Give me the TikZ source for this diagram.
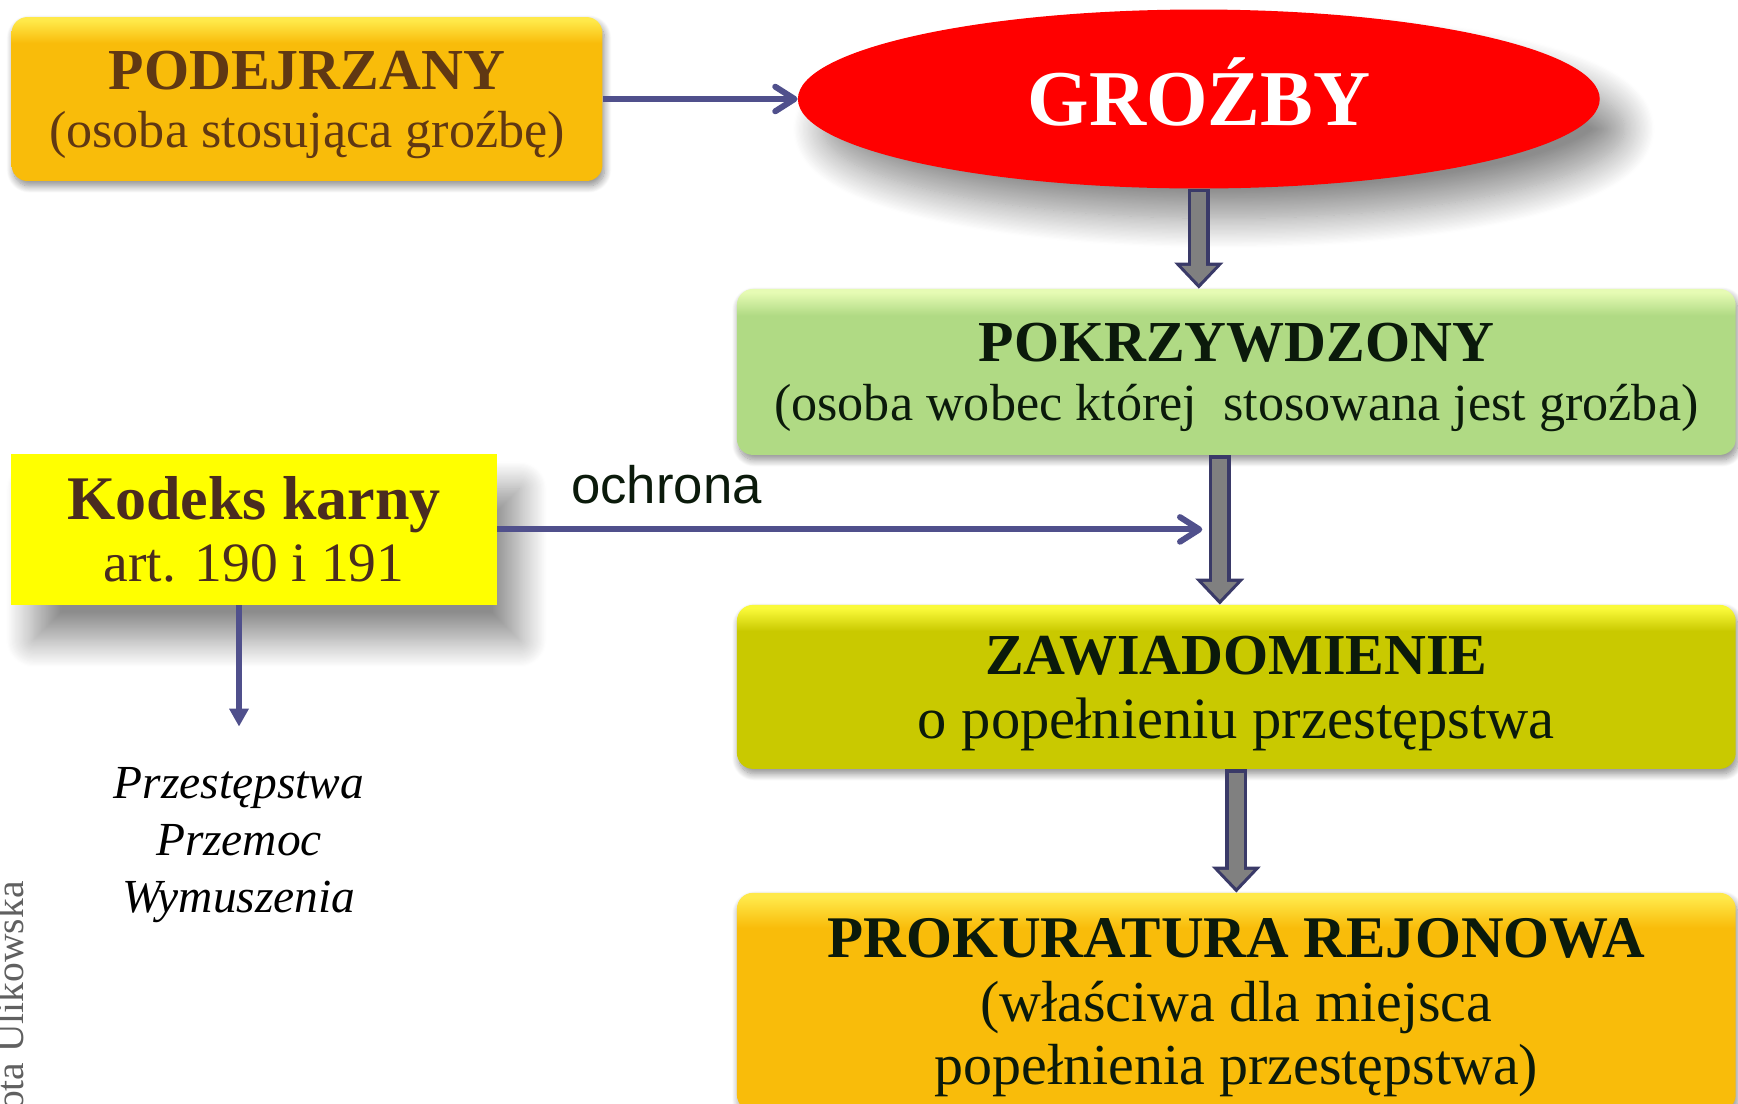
\documentclass[tikz,border=0pt]{standalone}
\usepackage{fontspec}
\setmainfont{Liberation Serif}
\setsansfont{Liberation Sans}
\usepackage{tikz}
\usetikzlibrary{positioning}
\usetikzlibrary{shapes,arrows.meta,shadows.blur}

\definecolor{boxorange}{HTML}{F9BC0A}
\definecolor{boxorangetop}{HTML}{FFE94A}
\definecolor{boxgreen}{HTML}{B0DA84}
\definecolor{boxgreentop}{HTML}{E6FBB4}
\definecolor{boxolive}{HTML}{C9C900}
\definecolor{boxolivetop}{HTML}{FAFA3A}
\definecolor{lawyellow}{HTML}{FFFF00}
\definecolor{threatred}{HTML}{FF0000}
\definecolor{linkblue}{HTML}{50508C}
\definecolor{blockgrey}{HTML}{808080}
\definecolor{blockedge}{HTML}{3A3A68}
\definecolor{txtbrown}{HTML}{603813}
\definecolor{txtdark}{HTML}{0B1A0B}
\definecolor{lawbrown}{HTML}{4A2C20}
\definecolor{creditgrey}{HTML}{606060}

\pgfdeclareverticalshading{glossorange}{100bp}{color(0bp)=(boxorange); color(25bp)=(boxorange); color(67bp)=(boxorange); color(74bp)=(boxorangetop); color(100bp)=(boxorangetop)}
\pgfdeclareverticalshading{glossgreen}{100bp}{color(0bp)=(boxgreen); color(25bp)=(boxgreen); color(67bp)=(boxgreen); color(74bp)=(boxgreentop); color(100bp)=(boxgreentop)}
\pgfdeclareverticalshading{glossolive}{100bp}{color(0bp)=(boxolive); color(25bp)=(boxolive); color(67bp)=(boxolive); color(74bp)=(boxolivetop); color(100bp)=(boxolivetop)}

\newcommand{\headline}{\fontsize{33}{34}\selectfont\bfseries}

\tikzstyle{box} = [rectangle, rounded corners=0.32cm, inner sep=0pt, align=center, shade, text depth=0pt,
    blur shadow={shadow xshift=0.04cm, shadow yshift=-0.1cm, shadow blur radius=0.14cm,
    shadow blur steps=12, shadow opacity=45}]
\tikzstyle{suspect} = [box, shading=glossorange, minimum width=11.82cm, minimum height=3.28cm,
    text=txtbrown, font=\fontsize{29.7}{33}\selectfont]
\tikzstyle{threat} = [ellipse, fill=threatred, minimum width=16.04cm, minimum height=3.58cm, inner sep=0pt,
    text=white, text height=29.7pt, text depth=0pt, font=\fontsize{45}{50}\selectfont\bfseries,
    blur shadow={shadow xshift=0.5cm, shadow yshift=-0.6cm, shadow blur radius=0.6cm,
    shadow blur steps=25, shadow opacity=45}]
\tikzstyle{victim} = [box, shading=glossgreen, minimum width=19.98cm, minimum height=3.32cm,
    text=txtdark, font=\fontsize{29.7}{33.5}\selectfont]
\tikzstyle{notice} = [box, shading=glossolive, minimum width=19.98cm, minimum height=3.28cm,
    text=txtdark, font=\fontsize{33.3}{36.4}\selectfont]
\tikzstyle{office} = [box, shading=glossorange, minimum width=19.98cm, minimum height=4.36cm,
    text=txtdark, font=\fontsize{33}{36.1}\selectfont]
\tikzstyle{law} = [rectangle, fill=lawyellow, minimum width=9.72cm, minimum height=3.02cm, inner sep=0pt,
    align=center, text=lawbrown, font=\fontsize{31.6}{35.4}\selectfont,
    blur shadow={shadow xshift=0.45cm, shadow yshift=-0.7cm, shadow blur radius=0.55cm,
    shadow blur steps=25, shadow opacity=45}]
\tikzstyle{crime} = [align=center, inner sep=0pt, font=\fontsize{27}{32.4}\selectfont\itshape]
\tikzstyle{credit} = [rotate=90, anchor=base east, inner sep=0pt, text=creditgrey, font=\fontsize{22.5}{24}\selectfont]
\tikzstyle{tag} = [text=txtdark, inner sep=0pt, font=\sffamily\fontsize{30}{34}\selectfont]
\tikzstyle{arrow} = [line width=3.4pt, color=linkblue, -{Straight Barb[length=11pt, width=14pt, round]}]
\tikzstyle{darrow} = [line width=3.4pt, color=linkblue, -{Triangle[length=10pt, width=11.4pt, line width=0pt]}]
\tikzstyle{fatedge} = [line width=12.5pt, color=blockedge, -{Triangle[length=14.8pt, width=28pt, line width=0pt]}]
\tikzstyle{fatcore} = [line width=8.7pt, color=blockgrey, -{Triangle[length=10.2pt, width=19.6pt, line width=0pt]},
    shorten >=2.7pt, shorten <=1.9pt]

\begin{document}
\begin{tikzpicture}[x=0.02cm, y=-0.02cm, node distance=6.3cm]
\useasboundingbox (0,0) rectangle (1738,1103);
\clip (0,0) rectangle (1738,1103);

\node (podej) [suspect] at (307,99) {{\headline PODEJRZANY}\\(osoba stosująca groźbę)};
\node (grozby) [threat, right of=podej, node distance=17.84cm] {GROŹBY};
\node (pokrz) [victim, below of=grozby, node distance=5.46cm, xshift=0.75cm]
    {{\headline POKRZYWDZONY}\\(osoba wobec której\ \ stosowana jest groźba)};
\node (zawiad) [notice, below of=pokrz] {{\headline ZAWIADOMIENIE}\\o popełnieniu przestępstwa};
\node (prokur) [office, below of=zawiad]
    {{\fontsize{33.6}{34}\selectfont\bfseries PROKURATURA REJONOWA}\\(właściwa dla miejsca\\popełnienia przestępstwa)};
\node (kodeks) [law, below of=podej, node distance=8.61cm, xshift=-1.06cm]
    {{\fontsize{35.3}{36.4}\selectfont\bfseries Kodeks karny}\\art. 190 i 191};
\node (crimes) [crime, below of=kodeks, node distance=6.31cm, xshift=-0.3cm]
    {Przestępstwa\\Przemoc\\Wymuszenia};
\node (author) [credit] at (23,881) {Dorota Ulikowska};
\coordinate (guard) at ([xshift=-0.68cm]pokrz.south |- kodeks.east);
\coordinate (kk) at ([xshift=-0.3cm, yshift=-2.42cm]kodeks.south);

\draw [arrow] (podej.east) -- (grozby.west);
\draw [arrow] (kodeks.east) -- node[tag, pos=0.24, anchor=base, yshift=0.52cm] {ochrona} (guard);
\draw [darrow] ([xshift=-0.3cm]kodeks.south) -- (kk);
\draw [fatedge] (grozby.south) -- (grozby.south |- pokrz.north);
\draw [fatcore] (grozby.south) -- (grozby.south |- pokrz.north);
\draw [fatedge] ([xshift=-0.33cm]pokrz.south) -- ([xshift=-0.33cm]zawiad.north);
\draw [fatcore] ([xshift=-0.33cm]pokrz.south) -- ([xshift=-0.33cm]zawiad.north);
\draw [fatedge] (zawiad.south) -- (prokur.north);
\draw [fatcore] (zawiad.south) -- (prokur.north);
\end{tikzpicture}
\end{document}
